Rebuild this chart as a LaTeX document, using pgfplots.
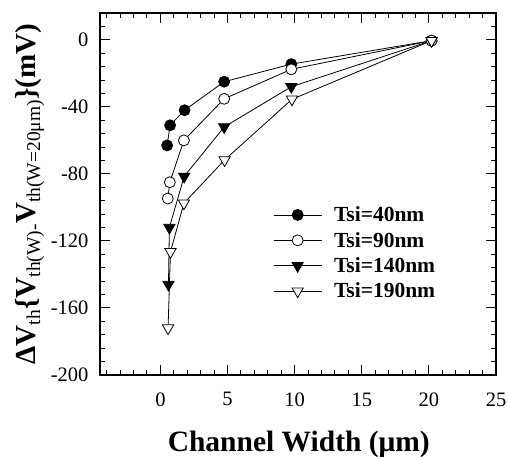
\documentclass[border=0pt]{standalone}
\usepackage{pgfplots}
\pgfplotsset{compat=1.18}
\usepackage{fontspec}
\setmainfont{Liberation Serif}
\begin{document}
\begin{tikzpicture}
\useasboundingbox (0,0) rectangle (508pt,456pt);
\begin{axis}[
  at={(100pt,81pt)}, anchor=south west,
  scale only axis, width=396pt, height=362pt,
  xmin=-4.5, xmax=25, ymin=-200, ymax=16,
  xtick={0,5,...,25}, ytick={-200,-160,...,0},
  minor xtick={-4,-3,...,24}, minor ytick={-192,-184,...,16},
  tick pos=both, tick align=inside,
  major tick length=10pt, minor tick length=5pt,
  every tick/.style={black, line width=1pt},
  axis line style={line width=1.8pt},
  /pgf/number format/assume math mode=true,
  ticklabel style={font=\fontsize{20.5}{21}\selectfont},
  xticklabel style={yshift=-14pt},
  yticklabel style={xshift=-8pt},
  xlabel={\bfseries Channel Width (μm)},
  xlabel style={at={(axis description cs:0.502,-0.21)}, anchor=base, font=\fontsize{29.5}{30}\selectfont},
  ylabel={\fontsize{29}{30}\selectfont\bfseries ΔV\textmd{\textsubscript{\fontsize{19.5}{20}\selectfont th}}\{V\textmd{\textsubscript{\fontsize{19.5}{20}\selectfont th(W)-}}V\textmd{\textsubscript{\fontsize{19.5}{20}\selectfont th(W=20μm)}}\}(mV)},
  ylabel style={at={(axis description cs:-0.164,0.5)}, anchor=base, rotate=0},
  legend style={draw=none, fill=none, at={(axis description cs:0.437,0.471)}, anchor=north west,
    font=\bfseries\fontsize{21.5}{22}\selectfont, inner sep=0pt, row sep=5pt,
    nodes={inner sep=2pt},
    /tikz/every odd column/.append style={column sep=10pt}},
  legend cell align=left,
  legend image code/.code={\draw[#1, mark repeat=2, mark phase=2] plot coordinates {(0pt,0pt) (24pt,0pt) (48pt,0pt)};},
  every axis plot/.append style={black, line width=0.8pt},
]
\addplot[mark=*, mark size=5.5pt, mark options={fill=black}] coordinates {
(0.5,-63) (0.72,-51) (1.8,-42) (4.75,-25) (9.75,-14.5) (20.2,-0.5)};
\addlegendentry{Tsi=40nm}
\addplot[mark=*, mark size=5.5pt, mark options={fill=white}] coordinates {
(0.55,-94.7) (0.7,-85) (1.75,-60) (4.75,-35.2) (9.75,-17.6) (20.2,-0.5)};
\addlegendentry{Tsi=90nm}
\addplot[mark=triangle*, mark size=6.5pt, mark options={fill=black, rotate=180}] coordinates {
(0.6,-146) (0.67,-112) (1.77,-81.5) (4.75,-52) (9.75,-28) (20.2,-0.5)};
\addlegendentry{Tsi=140nm}
\addplot[mark=triangle*, mark size=6.5pt, mark options={fill=white, rotate=180}] coordinates {
(0.57,-172) (0.75,-126.5) (1.75,-97.5) (4.78,-71.7) (9.8,-35.5) (20.2,-0.5)};
\addlegendentry{Tsi=190nm}
\end{axis}
\end{tikzpicture}
\end{document}
